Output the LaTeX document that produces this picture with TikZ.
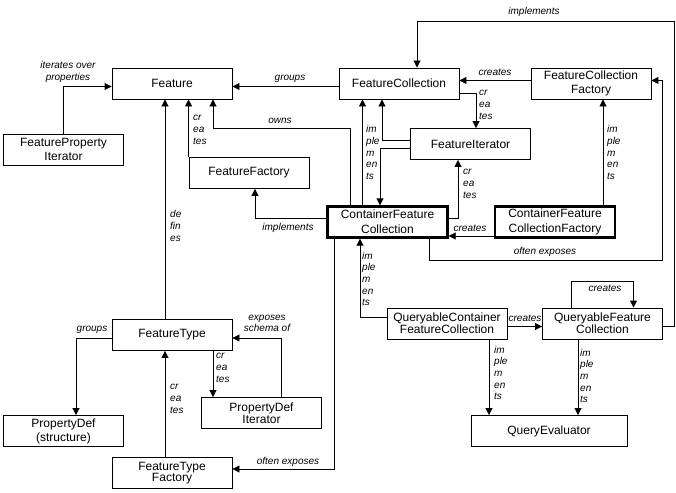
\documentclass[tikz,border=0pt]{standalone}
\usepackage{fontspec}
\setmainfont{Liberation Sans}
\usetikzlibrary{arrows.meta}
\pgfdeclarelayer{edgelayer}
\pgfdeclarelayer{nodelayer}
\pgfsetlayers{edgelayer,nodelayer,main}
\tikzstyle{entity}=[rectangle, fill=white, draw=black, line width=0.9pt, minimum width=120pt, minimum height=31pt, inner sep=0pt, align=center, font=\fontsize{12}{14}\selectfont]
\tikzstyle{container}=[style=entity, line width=2.4pt, font=\fontsize{12}{15}\selectfont]
\tikzstyle{tight}=[font=\fontsize{12}{10}\selectfont]
\tikzstyle{role}=[inner sep=0pt, align=left, font=\itshape\fontsize{10}{11.7}\selectfont]
\tikzstyle{link}=[-{Triangle[length=7pt,width=7pt]}, draw=black, line width=0.9pt]

\begin{document}
\begin{tikzpicture}[x=1pt, y=-1pt]
            \useasboundingbox (0, 0) rectangle (676, 492);
            \begin{pgfonlayer}{nodelayer}
                \node [style=entity] (feature) at (172, 83.5) {Feature};
                \node [style=entity] (fpiter) at (63.5, 149.5) {FeatureProperty\\Iterator};
                \node [style=entity] (ffactory) at (249, 173) {FeatureFactory};
                \node [style=entity] (fcoll) at (399, 83.5) {FeatureCollection};
                \node [style=entity] (fcfactory) at (591, 83.5) {FeatureCollection\\Factory};
                \node [style=entity] (fiter) at (470.5, 144) {FeatureIterator};
                \node [style=container] (cfc) at (387.5, 222) {ContainerFeature\\Collection};
                \node [style=container] (cfcfactory) at (555, 222) {ContainerFeature\\CollectionFactory};
                \node [style=entity] (ftype) at (172, 335) {FeatureType};
                \node [style=entity] (pdef) at (63.5, 431) {PropertyDef\\(structure)};
                \node [style=entity, style=tight] (pditer) at (261.5, 413) {PropertyDef\\Iterator};
                \node [style=entity, style=tight] (ftfactory) at (172, 473) {FeatureType\\Factory};
                \node [style=entity, style=tight] (qcfc) at (447, 323.5) {QueryableContainer\\FeatureCollection};
                \node [style=entity, style=tight] (qfc) at (602.5, 323.5) {QueryableFeature\\Collection};
                \node [style=entity, minimum width=156pt] (qeval) at (549, 431) {QueryEvaluator};

                \node [style=role, align=center] (iterates) at (68, 72) {iterates over\\properties};
                \node [style=role] (fgroups) at (290, 79) {groups};
                \node [style=role] (owns) at (280, 121) {owns};
                \node [style=role, anchor=west] (ffcreates) at (193, 130) {cr\\ea\\tes};
                \node [style=role, anchor=west] (defines) at (170, 226) {de\\fin\\es};
                \node [style=role] (ffimpl) at (288, 228) {implements};
                \node [style=role, anchor=west] (fcimpl) at (366, 152.5) {im\\ple\\m\\en\\ts};
                \node [style=role, anchor=west] (ficreates) at (479, 105) {cr\\ea\\tes};
                \node [style=role, anchor=west] (cficreates) at (463, 184) {cr\\ea\\tes};
                \node [style=role] (fccreates) at (495, 72) {creates};
                \node [style=role, anchor=west] (fcfimpl) at (607, 152.5) {im\\ple\\m\\en\\ts};
                \node [style=role] (cfccreates) at (470, 228) {creates};
                \node [style=role] (qfcimpl) at (534, 12) {implements};
                \node [style=role] (fcexposes) at (545, 252) {often exposes};
                \node [style=role] (ftexposes) at (288, 462) {often exposes};
                \node [style=role, anchor=west] (cfcimpl) at (362, 279) {im\\ple\\m\\en\\ts};
                \node [style=role] (qcreates) at (525, 318) {creates};
                \node [style=role] (loopcreates) at (605, 288) {creates};
                \node [style=role, anchor=west] (qcfcimpl) at (494, 373) {im\\ple\\m\\en\\ts};
                \node [style=role, anchor=west] (qfcqimpl) at (580, 376) {im\\ple\\m\\en\\ts};
                \node [style=role] (pdgroups) at (92, 330) {groups};
                \node [style=role, anchor=west] (pdicreates) at (216, 368) {cr\\ea\\tes};
                \node [style=role, align=center] (schema) at (267, 323.5) {exposes\\schema of};
                \node [style=role, anchor=west] (ftfcreates) at (170, 399) {cr\\ea\\tes};

                \coordinate (ownsbend) at (213, 128);
                \coordinate (exposebend) at (662, 260);
                \coordinate (implbend) at (674, 21);
            \end{pgfonlayer}
            \begin{pgfonlayer}{edgelayer}
                \draw [style=link] (fpiter.north) |- ([yshift=-3pt]feature.west);
                \draw [style=link] ([yshift=-3pt]fcoll.west) to ([yshift=-3pt]feature.east);
                \draw [style=link] ([xshift=-37.5pt]cfc.north) |- (ownsbend) to (ownsbend |- feature.south);
                \draw [style=link] (ffactory.north west) to (ffactory.north west |- feature.south);
                \draw [style=link] ([xshift=-7pt]ftype.north) to ([xshift=-7pt]feature.south);
                \draw [style=link] ([yshift=4pt]cfc.west) -| ([xshift=6pt]ffactory.south);
                \draw [style=link] ([xshift=-25pt]cfc.north) to ([xshift=-25pt]cfc.north |- fcoll.south);
                \draw [style=link] ([yshift=4pt]fiter.west) -| ([xshift=-17pt]fcoll.south);
                \draw [style=link] ([yshift=-4pt]fiter.west) -| ([xshift=-7.5pt]cfc.north);
                \draw [style=link] ([yshift=-9.5pt]fcoll.east) -| ([xshift=5.5pt]fiter.north);
                \draw [style=link] ([yshift=4pt]cfc.east) -| ([xshift=-12.5pt]fiter.south);
                \draw [style=link] ([yshift=3pt]fcfactory.west) to ([yshift=3pt]fcoll.east);
                \draw [style=link] ([xshift=48pt]cfcfactory.north) to ([xshift=12pt]fcfactory.south);
                \draw [style=link] ([yshift=-14pt]cfcfactory.west) to ([yshift=-14pt]cfc.east);
                \draw [style=link] ([yshift=-2.5pt]qfc.east) -| (implbend) -| ([xshift=18pt]fcoll.north);
                \draw [style=link] ([xshift=41.5pt]cfc.south) |- (exposebend) |- ([yshift=3pt]fcfactory.east);
                \draw [style=link] ([xshift=-53pt]cfc.south) |- ([yshift=4pt]ftfactory.east);
                \draw [style=link] ([yshift=6pt]qcfc.west) -| ([xshift=-27.5pt]cfc.south);
                \draw [style=link] ([yshift=-3pt]qcfc.east) to ([yshift=-3pt]qfc.west);
                \draw [style=link] ([xshift=-31.5pt]qfc.north) -- ++(0, -26.5) -| ([xshift=31pt]qfc.north);
                \draw [style=link] ([xshift=42pt]qcfc.south) to ([xshift=42pt]qcfc.south |- qeval.north);
                \draw [style=link] ([xshift=-24.5pt]qfc.south) to ([xshift=-24.5pt]qfc.south |- qeval.north);
                \draw [style=link] ([yshift=-3pt]ftype.west) -| ([xshift=12.5pt]pdef.north);
                \draw [style=link] ([xshift=41pt]ftype.south) to ([xshift=41pt]ftype.south |- pditer.north);
                \draw [style=link] ([xshift=19.5pt]pditer.north) |- ([yshift=-3pt]ftype.east);
                \draw [style=link] ([xshift=-7pt]ftfactory.north) to ([xshift=-7pt]ftype.south);
            \end{pgfonlayer}
        \end{tikzpicture}
\end{document}
